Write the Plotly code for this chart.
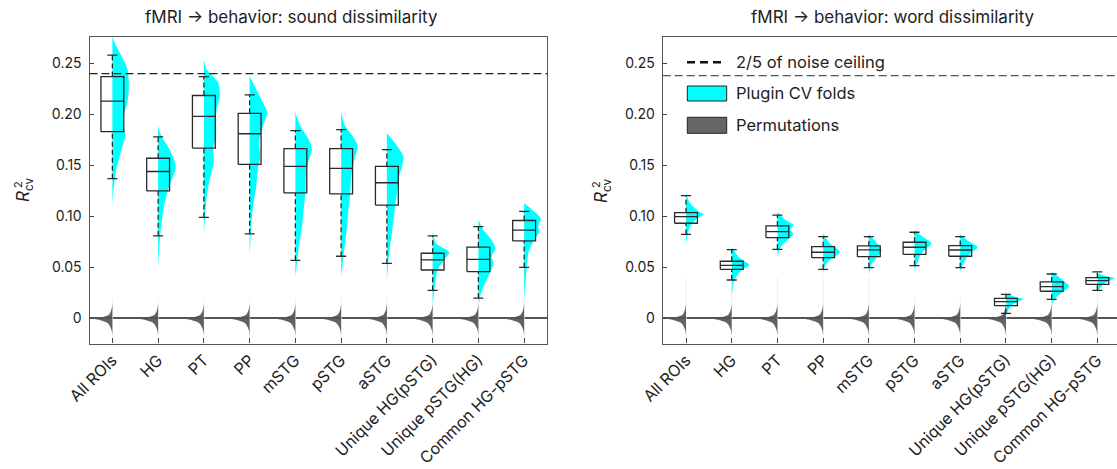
import plotly.graph_objects as go

W, H = 1117, 469

categories = ["All ROIs", "HG", "PT", "PP", "mSTG", "pSTG", "aSTG",
              "Unique HG(pSTG)", "Unique pSTG(HG)", "Common HG-pSTG"]

# ---- fMRI -> behavior: sound dissimilarity (box stats) ----
sound_lo  = [0.137, 0.081, 0.099, 0.083, 0.057, 0.061, 0.054, 0.0276, 0.020, 0.050]
sound_q1  = [0.183, 0.125, 0.167, 0.151, 0.123, 0.122, 0.111, 0.0475, 0.046, 0.076]
sound_med = [0.213, 0.144, 0.198, 0.181, 0.149, 0.147, 0.133, 0.0574, 0.058, 0.0865]
sound_q3  = [0.237, 0.157, 0.2185, 0.201, 0.1665, 0.1665, 0.149, 0.0639, 0.070, 0.096]
sound_hi  = [0.258, 0.178, 0.237, 0.219, 0.184, 0.185, 0.1655, 0.081, 0.090, 0.105]

# ---- fMRI -> behavior: word dissimilarity (box stats) ----
word_lo  = [0.0825, 0.0377, 0.0678, 0.0482, 0.0498, 0.0518, 0.0498, 0.0051, 0.0188, 0.0276]
word_q1  = [0.0933, 0.0482, 0.0792, 0.0596, 0.0606, 0.0629, 0.0610, 0.0126, 0.0267, 0.0335]
word_med = [0.0998, 0.0521, 0.0851, 0.0649, 0.0672, 0.0698, 0.0671, 0.0165, 0.0312, 0.0371]
word_q3  = [0.1037, 0.0561, 0.0907, 0.0704, 0.0711, 0.0747, 0.0714, 0.0198, 0.0358, 0.0400]
word_hi  = [0.1204, 0.0675, 0.1012, 0.0802, 0.0802, 0.0845, 0.0802, 0.0237, 0.0436, 0.0456]

# ---- plugin CV folds density profiles (R2 level, half width) ----
sound_violin_y = [
    [0.285, 0.274, 0.2606, 0.2443, 0.228, 0.2116, 0.1953, 0.179, 0.1659, 0.1463, 0.13, 0.117, 0.108],
    [0.1888, 0.1789, 0.1658, 0.1527, 0.1462, 0.1397, 0.1266, 0.1136, 0.0972, 0.0809, 0.0645, 0.0515],
    [0.254, 0.2443, 0.2312, 0.2182, 0.2051, 0.192, 0.179, 0.1659, 0.1528, 0.1397, 0.1234, 0.107, 0.0809],
    [0.2377, 0.2279, 0.2116, 0.2018, 0.1887, 0.1724, 0.1593, 0.1462, 0.1299, 0.1136, 0.0972, 0.0743, 0.0613],
    [0.2018, 0.1887, 0.1757, 0.1659, 0.1528, 0.1397, 0.1234, 0.107, 0.0907, 0.0743, 0.058, 0.0417],
    [0.2018, 0.1887, 0.1789, 0.1691, 0.156, 0.1397, 0.1234, 0.107, 0.0907, 0.0743, 0.0547, 0.0417],
    [0.1815, 0.1717, 0.1586, 0.1488, 0.1357, 0.1226, 0.1096, 0.0965, 0.0834, 0.0671, 0.0507, 0.0376],
    [0.0851, 0.0737, 0.0649, 0.0574, 0.0475, 0.0345, 0.0214, 0.0118],
    [0.0965, 0.0867, 0.0769, 0.0688, 0.0606, 0.0541, 0.0443, 0.0345, 0.0247, 0.0149, 0.0083],
    [0.1129, 0.1064, 0.0982, 0.09, 0.0851, 0.0769, 0.0671, 0.0508, 0.0345, 0.0182],
]
sound_violin_w = [
    [0.0, 0.015, 0.16, 0.33, 0.36, 0.33, 0.23, 0.28, 0.2, 0.087, 0.036, 0.007, 0.0],
    [0.0, 0.07, 0.25, 0.37, 0.38, 0.33, 0.22, 0.145, 0.087, 0.044, 0.02, 0.0],
    [0.0, 0.06, 0.31, 0.35, 0.28, 0.25, 0.26, 0.2, 0.22, 0.145, 0.073, 0.036, 0.0],
    [0.0, 0.11, 0.29, 0.385, 0.29, 0.2, 0.23, 0.18, 0.145, 0.087, 0.044, 0.015, 0.0],
    [0.0, 0.11, 0.29, 0.36, 0.28, 0.23, 0.22, 0.18, 0.145, 0.087, 0.044, 0.0],
    [0.0, 0.087, 0.25, 0.36, 0.29, 0.22, 0.2, 0.16, 0.13, 0.087, 0.036, 0.0],
    [0.0, 0.18, 0.36, 0.33, 0.25, 0.22, 0.18, 0.145, 0.11, 0.058, 0.022, 0.0],
    [0.0, 0.073, 0.36, 0.25, 0.11, 0.058, 0.022, 0.0],
    [0.0, 0.11, 0.29, 0.37, 0.29, 0.33, 0.25, 0.145, 0.058, 0.015, 0.0],
    [0.0, 0.18, 0.36, 0.31, 0.33, 0.22, 0.11, 0.058, 0.029, 0.0],
]
word_violin_y = [
    [0.1226, 0.1129, 0.1047, 0.1021, 0.0982, 0.09, 0.0818, 0.0737],
    [0.0704, 0.0606, 0.0524, 0.0475, 0.0377, 0.0279, 0.0214],
    [0.1047, 0.0965, 0.0916, 0.0867, 0.0828, 0.0769, 0.0704, 0.0606],
    [0.0835, 0.0737, 0.0655, 0.0573, 0.0508, 0.0443],
    [0.0828, 0.0737, 0.0672, 0.0622, 0.0541, 0.0475, 0.0426],
    [0.0868, 0.0802, 0.0737, 0.0671, 0.0606, 0.0541, 0.0475],
    [0.0828, 0.0769, 0.0698, 0.0639, 0.0573, 0.0508, 0.0459],
    [0.0247, 0.0214, 0.0188, 0.0149, 0.01, 0.0051, 0.0002],
    [0.0458, 0.0412, 0.0359, 0.0317, 0.0261, 0.0212, 0.0163, 0.0114],
    [0.0443, 0.0417, 0.0394, 0.0352, 0.0296, 0.0263],
]
word_violin_w = [
    [0.0, 0.087, 0.29, 0.38, 0.25, 0.087, 0.036, 0.0],
    [0.0, 0.145, 0.38, 0.22, 0.058, 0.022, 0.0],
    [0.0, 0.18, 0.35, 0.28, 0.35, 0.22, 0.073, 0.0],
    [0.0, 0.145, 0.36, 0.145, 0.036, 0.0],
    [0.0, 0.18, 0.28, 0.22, 0.073, 0.022, 0.0],
    [0.0, 0.18, 0.37, 0.22, 0.11, 0.058, 0.0],
    [0.0, 0.145, 0.38, 0.22, 0.11, 0.044, 0.0],
    [0.0, 0.18, 0.38, 0.18, 0.073, 0.022, 0.0],
    [0.0, 0.145, 0.29, 0.38, 0.25, 0.11, 0.036, 0.0],
    [0.0, 0.18, 0.37, 0.18, 0.058, 0.0],
]

# ---- permutation null distribution profile (shared shape) ----
perm_y = [0.014, 0.008, 0.004, 0.0015, 0.0, -0.0015, -0.004, -0.007, -0.011, -0.016]
perm_w = [0.0, 0.025, 0.07, 0.2, 0.42, 0.28, 0.12, 0.06, 0.02, 0.0]
perm_lo = -0.02
sound_perm_hi = [0.020, 0.020, 0.020, 0.020, 0.020, 0.020, 0.020, 0.012, 0.018, 0.018]
word_perm_hi  = [0.040, 0.040, 0.040, 0.040, 0.040, 0.020, 0.020, 0.031, 0.035, 0.030]

ceiling_sound = 0.240
ceiling_word = 0.238

titles = ["fMRI → behavior: sound dissimilarity", "fMRI → behavior: word dissimilarity"]
legend_labels = ["2/5 of noise ceiling", "Plugin CV folds", "Permutations"]
ytick_vals = [0, 0.05, 0.10, 0.15, 0.20, 0.25]
ytick_text = ["0", "0.05", "0.10", "0.15", "0.20", "0.25"]

CYAN = "#00FFFF"
GRAY = "rgba(85,85,85,0.92)"
BOXC = "#2a2a2a"
FONT = "Inter"

fig = go.Figure()


def add_panel(xa, ya, lo, q1, med, q3, hi, vy, vw, perm_hi):
    n = len(categories)
    for i in range(n):
        xs = [i + w for w in vw[i]]
        fig.add_trace(go.Scatter(x=xs, y=vy[i], xaxis=xa, yaxis=ya, mode="lines",
                                 line=dict(color=CYAN, width=0, shape="spline", smoothing=0.8),
                                 fill="toself", fillcolor=CYAN, hoverinfo="skip", showlegend=False))
    tx, ty = [], []
    for i in range(n):
        tx += [i, i, None]
        ty += [perm_lo, perm_hi[i], None]
    fig.add_trace(go.Scatter(x=tx, y=ty, xaxis=xa, yaxis=ya, mode="lines",
                             line=dict(color="#ededed", width=1), hoverinfo="skip", showlegend=False))
    for i in range(n):
        xs = [i - w for w in perm_w]
        fig.add_trace(go.Scatter(x=xs, y=perm_y, xaxis=xa, yaxis=ya, mode="lines",
                                 line=dict(color=GRAY, width=0, shape="spline", smoothing=0.6),
                                 fill="toself", fillcolor=GRAY, hoverinfo="skip", showlegend=False))
    wx, wy = [], []
    for i in range(n):
        wx += [i, i, None, i, i, None]
        wy += [lo[i], q1[i], None, q3[i], hi[i], None]
    fig.add_trace(go.Scatter(x=wx, y=wy, xaxis=xa, yaxis=ya, mode="lines",
                             line=dict(color=BOXC, width=1.3, dash="5px,3px"),
                             hoverinfo="skip", showlegend=False))
    bx, by = [], []
    hb, hc = 0.25, 0.11
    for i in range(n):
        bx += [i - hb, i + hb, i + hb, i - hb, i - hb, None]
        by += [q1[i], q1[i], q3[i], q3[i], q1[i], None]
        bx += [i - hb, i + hb, None]
        by += [med[i], med[i], None]
        bx += [i - hc, i + hc, None, i - hc, i + hc, None]
        by += [lo[i], lo[i], None, hi[i], hi[i], None]
    fig.add_trace(go.Scatter(x=bx, y=by, xaxis=xa, yaxis=ya, mode="lines",
                             line=dict(color=BOXC, width=1.3),
                             hoverinfo="skip", showlegend=False))


add_panel("x", "y", sound_lo, sound_q1, sound_med, sound_q3, sound_hi,
          sound_violin_y, sound_violin_w, sound_perm_hi)
add_panel("x2", "y2", word_lo, word_q1, word_med, word_q3, word_hi,
          word_violin_y, word_violin_w, word_perm_hi)


def px(x):
    return x / W


def py(y):
    return 1 - y / H


ydom = [py(343.5), py(37.3)]
axis_common = dict(showgrid=False, showline=True, linecolor="#555", linewidth=1.2,
                   ticks="inside", tickcolor="#444", tickwidth=1, automargin=False)
xfont = dict(family=FONT, size=16, color="#222")
yfont = dict(family=FONT, size=14, color="#222")

fig.update_layout(
    width=W, height=H, autosize=False,
    margin=dict(l=0, r=0, t=0, b=0, pad=0),
    plot_bgcolor="white", paper_bgcolor="white",
    xaxis=dict(domain=[px(89.5), px(547)], range=[-0.5, 9.5], anchor="y",
               tickvals=list(range(len(categories))), ticktext=categories, tickfont=xfont,
               tickangle=-45, ticklen=5, mirror=True, zeroline=False, **axis_common),
    yaxis=dict(domain=ydom, range=[-0.0245, 0.2755], anchor="x", tickfont=yfont,
               tickvals=ytick_vals, ticktext=ytick_text, ticklen=4, mirror=True,
               zeroline=True, zerolinecolor="#555", zerolinewidth=1.5,
               ticklabelstandoff=4, **axis_common),
    xaxis2=dict(domain=[px(662.7), 1.0], range=[-0.51, 9.43], anchor="y2",
                tickvals=list(range(len(categories))), ticktext=categories, tickfont=xfont,
                tickangle=-45, ticklen=5, mirror=True, zeroline=False, **axis_common),
    yaxis2=dict(domain=ydom, range=[-0.0245, 0.2755], anchor="x2", tickfont=yfont,
                tickvals=ytick_vals, ticktext=ytick_text, ticklen=4, mirror=False,
                zeroline=True, zerolinecolor="#555", zerolinewidth=1.5,
                ticklabelstandoff=4, **axis_common),
)

shapes = [
    dict(type="line", xref="x domain", yref="y", x0=0, x1=1, y0=ceiling_sound, y1=ceiling_sound,
         line=dict(color="#222", width=1.3, dash="8px,4px")),
    dict(type="line", xref="x2 domain", yref="y2", x0=0, x1=1, y0=ceiling_word, y1=ceiling_word,
         line=dict(color="#555", width=1.3, dash="8px,4px")),
    dict(type="line", xref="paper", yref="paper", x0=px(687), x1=px(723), y0=py(62.3), y1=py(62.3),
         line=dict(color="#111", width=2.6, dash="8px,5px")),
    dict(type="rect", xref="paper", yref="paper", x0=px(687.3), x1=px(726.7), y0=py(101), y1=py(86),
         fillcolor=CYAN, line=dict(color="#222", width=1)),
    dict(type="rect", xref="paper", yref="paper", x0=px(687.3), x1=px(726.7), y0=py(133.3), y1=py(117.3),
         fillcolor="#666", line=dict(color="#222", width=1)),
]
fig.update_layout(shapes=shapes)

ann = []
ann.append(dict(text=titles[0], x=px(291), y=py(17), xref="paper", yref="paper",
                xanchor="center", yanchor="middle",
                showarrow=False, font=dict(family=FONT, size=17, color="#222")))
ann.append(dict(text=titles[1], x=px(893), y=py(17), xref="paper", yref="paper",
                xanchor="center", yanchor="middle",
                showarrow=False, font=dict(family=FONT, size=17, color="#222")))
for lab, yy in zip(legend_labels, [62, 93.5, 125]):
    ann.append(dict(text=lab, x=px(734), y=py(yy), xref="paper", yref="paper", xanchor="left",
                    yanchor="middle", showarrow=False, font=dict(family=FONT, size=16.5, color="#222")))
for xc in [24, 602]:
    ann.append(dict(text="<i>R</i><sub>cv</sub>", x=px(xc), y=py(190), xref="paper", yref="paper",
                    xanchor="center", yanchor="middle",
                    textangle=-90, showarrow=False, font=dict(family=FONT, size=17, color="#222")))
    ann.append(dict(text="2", x=px(xc - 6.5), y=py(184.5), xref="paper", yref="paper",
                    xanchor="center", yanchor="middle",
                    textangle=-90, showarrow=False, font=dict(family=FONT, size=11, color="#222")))
fig.update_layout(annotations=ann)

fig.write_html("out.html", config={"displayModeBar": False},
               post_script="document.body.style.margin='0';document.body.style.overflow='hidden';")
